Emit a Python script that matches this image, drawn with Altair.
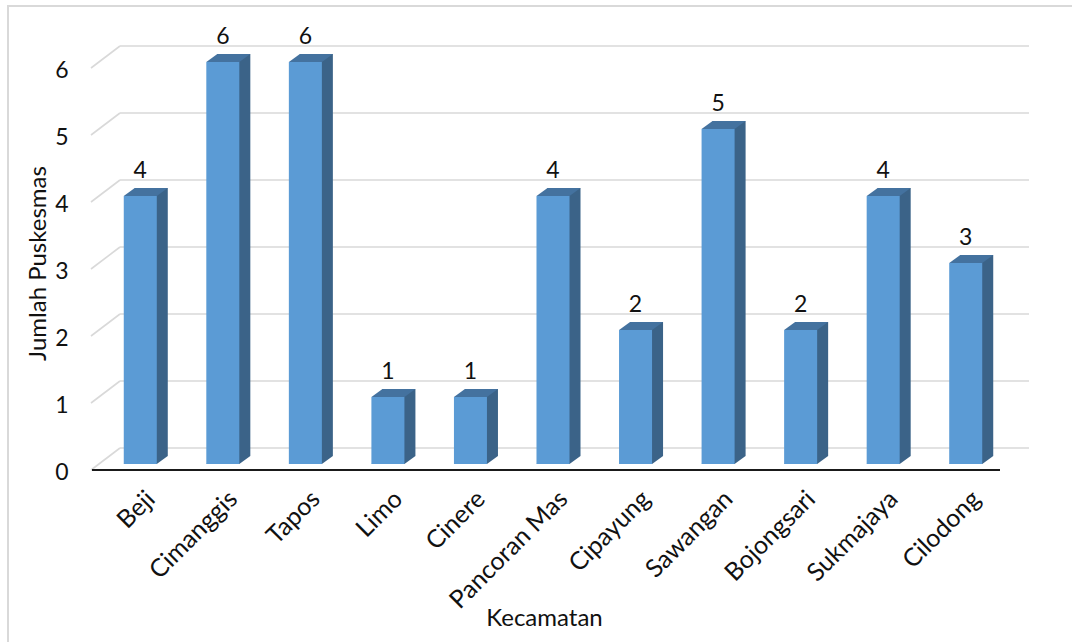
import altair as alt
import pandas as pd

kecamatan = ["Beji", "Cimanggis", "Tapos", "Limo", "Cinere", "Pancoran Mas",
             "Cipayung", "Sawangan", "Bojongsari", "Sukmajaya", "Cilodong"]
jumlah = [4, 6, 6, 1, 1, 4, 2, 5, 2, 4, 3]
ticks = [0, 1, 2, 3, 4, 5, 6]

bars = pd.DataFrame({"kecamatan": kecamatan, "jumlah": jumlah})
grid = pd.DataFrame({"v": ticks})

FONT = "Lato"
FRONT = "#5B9BD5"
SIDE = "#3B6388"
TOP = "#44729F"
GRID = "#D9D9D9"
TXT = "#111111"

W, H = 908, 402

xscale = alt.Scale(domain=kecamatan, paddingInner=0.6, paddingOuter=0.3)
yscale = alt.Scale(domain=[0, 6], nice=False, zero=True)

x_axis = alt.Axis(labelAngle=-45, labelAlign="right", labelBaseline="top",
                  labelPadding=22, labelOffset=2, ticks=False, domain=False, grid=False,
                  labelFont=FONT, labelFontSize=25, labelColor=TXT,
                  title="Kecamatan", titleFont=FONT, titleFontSize=24,
                  titleFontWeight="normal", titleColor=TXT,
                  titleX=445, titleY=154, titleAlign="center",
                  titleBaseline="middle", titleAngle=0)
y_axis = alt.Axis(values=ticks, format="d", ticks=False, domain=False, grid=False,
                  labelPadding=31, labelOffset=8, labelBaseline="middle",
                  labelFont=FONT, labelFontSize=23, labelColor=TXT,
                  title="Jumlah Puskesmas", titleFont=FONT, titleFontSize=24,
                  titleFontWeight="normal", titleColor=TXT,
                  titleX=-61, titleY=201, titleAngle=-90, titleAlign="center",
                  titleBaseline="middle")

base_grid = alt.Chart(grid)

# outer chart border (decoration)
border_top = alt.Chart(grid).transform_filter("datum.v == 0").mark_rule(
    color=GRID, strokeWidth=2).encode(
    x=alt.value(-92), x2=alt.value(980), y=alt.value(-56))
border_left = alt.Chart(grid).transform_filter("datum.v == 0").mark_rule(
    color=GRID, strokeWidth=2).encode(
    x=alt.value(-91), y=alt.value(-56), y2=alt.value(600))

back_grid = base_grid.mark_rule(color=GRID, strokeWidth=1.6, yOffset=-16).encode(
    y=alt.Y("v:Q", scale=yscale, axis=y_axis),
    x=alt.value(21), x2=alt.value(930))

side_grid = base_grid.mark_rule(color=GRID, strokeWidth=1.6,
                                yOffset=6, y2Offset=-16).encode(
    y=alt.Y("v:Q", scale=yscale, axis=y_axis),
    y2="v:Q",
    x=alt.value(-8), x2=alt.value(21))

floor_front = base_grid.transform_filter("datum.v == 0").mark_rule(
    color="#1a1a1a", strokeWidth=2, yOffset=6).encode(
    y=alt.Y("v:Q", scale=yscale, axis=y_axis),
    x=alt.value(-7), x2=alt.value(901))

base_bars = alt.Chart(bars)
X = alt.X("kecamatan:N", scale=xscale, sort=kecamatan, axis=x_axis)
Y = alt.Y("jumlah:Q", scale=yscale, axis=y_axis)

side = base_bars.mark_bar(color=SIDE, xOffset=11, x2Offset=11,
                          yOffset=-8, y2Offset=-8).encode(x=X, y=Y)

para = "M -1 0.1818 L -0.5 -0.1818 L 1 -0.1818 L 0.5 0.1818 Z"

bottom = base_bars.mark_point(shape=para, size=1936, filled=True, opacity=1,
                              strokeWidth=0, color=SIDE,
                              xOffset=5.5, yOffset=-4).encode(
    x=X, y=alt.datum(0))

front = base_bars.mark_bar(color=FRONT).encode(x=X, y=Y)

top = base_bars.mark_point(shape=para, size=1936, filled=True, opacity=1,
                           strokeWidth=0, color=TOP,
                           xOffset=5.5, yOffset=-4).encode(x=X, y=Y)

labels = base_bars.mark_text(font=FONT, fontSize=23, color=TXT,
                             baseline="middle", dy=-25).encode(
    x=X, y=Y, text="jumlah:Q")

chart = alt.layer(
    border_top, border_left, back_grid, side_grid, floor_front,
    side, bottom, front, top, labels
).properties(
    width=W, height=H,
    autosize=alt.AutoSizeParams(type="none"),
    padding={"left": 99, "top": 62, "right": 65, "bottom": 178},
    background="white",
).configure_view(stroke=None)

chart.save("out.html", embed_options={"renderer": "svg", "actions": False})
